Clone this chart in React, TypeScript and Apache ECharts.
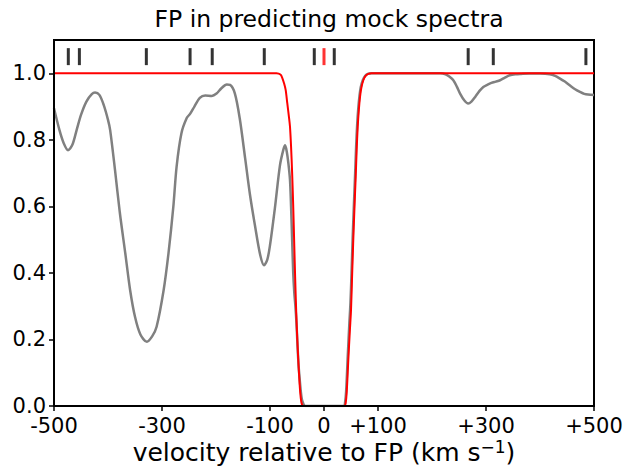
import React, { useEffect, useRef } from "react";
import * as echarts from "echarts";

// ---- data ----
const xTickValues = [-500, -300, -100, 0, 100, 300, 500];
const yTickValues = [0, 0.2, 0.4, 0.6, 0.8, 1.0];

// FP model (red)
const modelV = [
  -500, -400, -300, -200, -150, -110, -95, -88, -84, -80, -77, -74, -71, -68, -65, -63, -61, -59, -57,
  -55, -53.5, -52, -50.5, -48, -46, -44, -42, -40, -38, 0, 38, 40, 42, 45, 48, 50, 52, 54, 56.5, 58.7,
  60.5, 62.4, 64.5, 66.7, 69, 72.8, 77, 82, 88, 100, 150, 200, 300, 400, 500,
];
const modelFlux = [
  1, 1, 1, 1, 1, 1, 1, 1, 0.999, 0.995, 0.985, 0.97, 0.95, 0.91, 0.87, 0.84, 0.78, 0.7, 0.6,
  0.48, 0.39, 0.31, 0.24, 0.15, 0.09, 0.04, 0.012, 0.002, 0, 0, 0, 0.008, 0.04, 0.138, 0.23, 0.288, 0.39, 0.489, 0.6, 0.689,
  0.77, 0.839, 0.89, 0.929, 0.955, 0.979, 0.992, 0.998, 1, 1, 1, 1, 1, 1, 1,
];

// mock spectrum (gray)
const mockV = [
  -500, -490, -482, -474, -466, -458, -450, -440, -430, -424, -416, -408, -400, -396, -387, -378, -368,
  -359, -350, -340, -328, -318, -310, -297, -288, -279, -273, -264, -254, -248, -240, -230, -220, -208,
  -199, -190, -180, -174, -165, -156, -146, -137, -128, -118, -111, -105, -100, -91, -81.5, -75, -72,
  -69, -66, -63, -61, -59, -57, -55, -53, -51, -49, -47, -45, -43, -41, -38, -35, 0, 37, 39, 41, 44,
  47, 49, 51, 53, 55.5, 57.7, 59.5, 61.4, 63.5, 65.7, 68, 72, 76, 81, 88, 120, 170, 215, 225, 232,
  239.5, 246, 252, 260, 267, 273, 280, 288, 295, 303, 310, 318, 326, 335, 344, 355, 365, 380, 400, 418,
  428, 437, 446, 455, 465, 474, 482, 489, 500,
];
const mockFlux = [
  0.895, 0.83, 0.79, 0.769, 0.785, 0.83, 0.875, 0.915, 0.937, 0.942, 0.935, 0.905, 0.86, 0.829, 0.709, 0.58, 0.459,
  0.348, 0.268, 0.215, 0.193, 0.21, 0.238, 0.348, 0.459, 0.599, 0.719, 0.82, 0.866, 0.878, 0.9, 0.926, 0.933, 0.932,
  0.939, 0.955, 0.966, 0.965, 0.939, 0.864, 0.744, 0.634, 0.544, 0.453, 0.423, 0.44, 0.483, 0.594, 0.724, 0.772, 0.784,
  0.765, 0.73, 0.68, 0.6, 0.5, 0.4, 0.34, 0.3, 0.25, 0.18, 0.12, 0.08, 0.045, 0.02, 0.006, 0, 0, 0, 0.01, 0.045, 0.15,
  0.25, 0.31, 0.4, 0.5, 0.61, 0.7, 0.78, 0.845, 0.895, 0.932, 0.958, 0.98, 0.992, 0.998, 1, 1, 1, 1, 0.997, 0.99,
  0.979, 0.96, 0.939, 0.918, 0.909, 0.915, 0.929, 0.947, 0.959, 0.966, 0.971, 0.975, 0.979, 0.987, 0.994, 0.997, 0.998, 0.999, 0.999, 0.997,
  0.992, 0.984, 0.975, 0.964, 0.952, 0.944, 0.938, 0.936, 0.935,
];

// component markers along the top
const componentV = [-473.5, -453, -329, -248, -207, -110.6, -18, 19, 267, 313.5, 485];
const fpV = [0];
const markerLevel = 1.05;

const FONT = "DejaVu Sans";

export default function App() {
  const ref = useRef<HTMLDivElement>(null);
  useEffect(() => {
    if (!ref.current) return;
    const chart = echarts.init(ref.current, undefined, { renderer: "svg" });
    const zip = (xs: number[], ys: number[]) => xs.map((x, i) => [x, ys[i]]);
    chart.setOption({
      animation: false,
      backgroundColor: "#ffffff",
      title: {
        text: "FP in predicting mock spectra",
        left: 324,
        top: 2,
        textAlign: "center",
        textStyle: { fontFamily: FONT, fontSize: 23.5, fontWeight: "normal", color: "#000" },
      },
      grid: {
        left: 54,
        right: 31,
        top: 40,
        bottom: 62,
        show: true,
        borderColor: "#000",
        borderWidth: 2,
        backgroundColor: "transparent",
        containLabel: false,
        outerBoundsMode: "none",
      },
      xAxis: {
        type: "value",
        min: -500,
        max: 500,
        interval: 100,
        z: 10,
        name: "{n|velocity relative to FP (km s}{sup|−1}{n|)}",
        nameLocation: "middle",
        nameGap: 32,
        nameMoveOverlap: false,
        nameTextStyle: {
          fontFamily: FONT,
          color: "#000",
          rich: {
            n: { fontFamily: FONT, fontSize: 25, color: "#000" },
            sup: { fontFamily: FONT, fontSize: 17, color: "#000", padding: [0, 0, 12, 0] },
          },
        },
        axisLine: { show: true, onZero: false, lineStyle: { color: "#000", width: 2 } },
        axisTick: {
          show: true,
          inside: false,
          length: 5,
          customValues: xTickValues,
          lineStyle: { color: "#000", width: 1.5 },
        },
        axisLabel: {
          customValues: xTickValues,
          margin: 9,
          fontFamily: FONT,
          fontSize: 21,
          color: "#000",
          formatter: (v: number) => (v > 0 ? "+" + v : String(v)),
        },
        splitLine: { show: false },
      },
      yAxis: {
        type: "value",
        min: 0,
        max: 1.1,
        interval: 0.2,
        z: 10,
        axisLine: { show: true, onZero: false, lineStyle: { color: "#000", width: 2 } },
        axisTick: {
          show: true,
          inside: false,
          length: 5,
          customValues: yTickValues,
          lineStyle: { color: "#000", width: 1.5 },
        },
        axisLabel: {
          customValues: yTickValues,
          margin: 8,
          fontFamily: FONT,
          fontSize: 21,
          color: "#000",
          formatter: (v: number) => v.toFixed(1),
        },
        splitLine: { show: false },
      },
      series: [
        {
          type: "line",
          data: zip(mockV, mockFlux),
          showSymbol: false,
          smooth: 0.3,
          lineStyle: { color: "#808080", width: 2.5 },
          z: 2,
        },
        {
          type: "line",
          data: zip(modelV, modelFlux),
          showSymbol: false,
          smooth: 0.3,
          lineStyle: { color: "#ff0000", width: 2 },
          z: 3,
        },
        {
          type: "scatter",
          data: componentV.map((v) => [v, markerLevel]),
          symbol: "rect",
          symbolSize: [3, 17],
          itemStyle: { color: "#000" },
          z: 4,
        },
        {
          type: "scatter",
          data: fpV.map((v) => [v, markerLevel]),
          symbol: "rect",
          symbolSize: [3, 17],
          itemStyle: { color: "#ff0000" },
          z: 4,
        },
      ],
    });
    return () => chart.dispose();
  }, []);
  return (
    <div
      ref={ref}
      style={{ position: "fixed", left: 0, top: 0, width: 625, height: 468 }}
    />
  );
}
